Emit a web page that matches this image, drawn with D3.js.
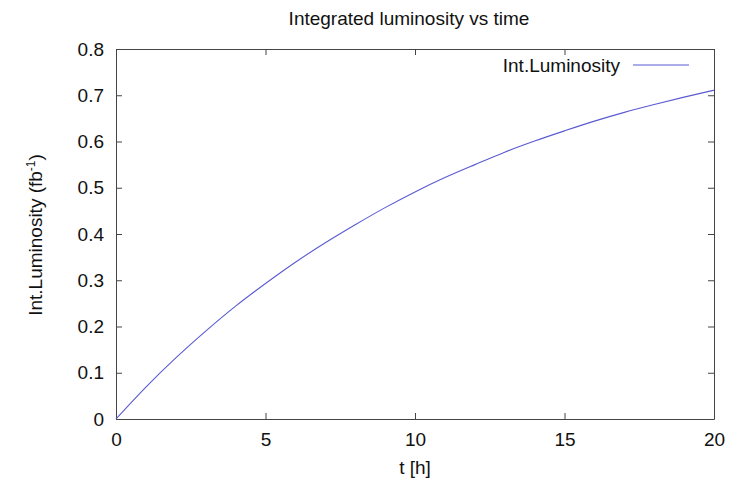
<!DOCTYPE html>
<html>
<head>
<meta charset="utf-8">
<script src="https://cdn.jsdelivr.net/npm/d3@7"></script>
<style>
  body { margin: 0; background: #fff; }
  svg { font-family: "Liberation Sans", Arial, sans-serif; }
</style>
</head>
<body>
<svg id="chart" width="739" height="482"></svg>
<script>
// hours
var tiempo = [0, 1, 2, 3, 4, 5, 6, 7, 8, 9, 10, 11, 12, 13, 14, 15, 16, 17, 18, 19, 20];
// integrated luminosity (fb^-1)
var lumi = [0, 0.069, 0.132, 0.190, 0.244, 0.293, 0.339, 0.381, 0.420, 0.457, 0.491,
            0.522, 0.550, 0.577, 0.601, 0.623, 0.644, 0.663, 0.680, 0.696, 0.711];
var xTicks = [0, 5, 10, 15, 20];
var yTicks = [0, 0.1, 0.2, 0.3, 0.4, 0.5, 0.6, 0.7, 0.8];

var svg = d3.select("#chart");
var mIzq = 116, mDer = 714, mSup = 49, mInf = 419;
var fs = 19;

var x = d3.scaleLinear().domain([0, 20]).range([mIzq, mDer]);
var y = d3.scaleLinear().domain([0, 0.8]).range([mInf, mSup]);

var borde = "#444";

// ejes con ticks hacia dentro, y espejo arriba/derecha
var ax = svg.append("g").attr("transform", "translate(0," + mInf + ")")
  .call(d3.axisBottom(x).tickValues(xTicks).tickSizeInner(-6).tickSizeOuter(0).tickPadding(14).tickFormat(d3.format("d")));
var axTop = svg.append("g").attr("transform", "translate(0," + mSup + ")")
  .call(d3.axisTop(x).tickValues(xTicks).tickSizeInner(-6).tickSizeOuter(0).tickFormat(""));
var ay = svg.append("g").attr("transform", "translate(" + mIzq + ",0)")
  .call(d3.axisLeft(y).tickValues(yTicks).tickSizeInner(-6).tickSizeOuter(0).tickPadding(12)
    .tickFormat(function(d){ return d === 0 ? "0" : d3.format(".1f")(d); }));
var ayR = svg.append("g").attr("transform", "translate(" + mDer + ",0)")
  .call(d3.axisRight(y).tickValues(yTicks).tickSizeInner(-6).tickSizeOuter(0).tickFormat(""));

[ax, axTop, ay, ayR].forEach(function(g){
  g.select(".domain").attr("stroke", borde);
  g.selectAll(".tick line").attr("stroke", borde);
  g.selectAll(".tick text").attr("font-size", fs).attr("fill", "#111")
    .attr("font-family", "Liberation Sans, Arial, sans-serif");
});

// linea
var linea = d3.line()
  .x(function(d, i){ return x(tiempo[i]); })
  .y(function(d){ return y(d); })
  .curve(d3.curveMonotoneX);

svg.append("path")
  .datum(lumi)
  .attr("fill", "none")
  .attr("stroke", "#5a5ad2")
  .attr("stroke-width", 1.1)
  .attr("d", linea);

// titulo y etiquetas
svg.append("text").attr("x", 409).attr("y", 25).attr("text-anchor", "middle")
  .attr("font-size", fs).attr("fill", "#111").text("Integrated luminosity vs time");

svg.append("text").attr("x", 415).attr("y", 474).attr("text-anchor", "middle")
  .attr("font-size", fs).attr("fill", "#111").text("t [h]");

var yl = svg.append("text")
  .attr("transform", "translate(42,235) rotate(-90)")
  .attr("text-anchor", "middle").attr("font-size", fs).attr("fill", "#111");
yl.append("tspan").text("Int.Luminosity (fb");
yl.append("tspan").attr("dy", -7).attr("font-size", 12).text("-1");
yl.append("tspan").attr("dy", 7).text(")");

// leyenda
svg.append("text").attr("x", 620).attr("y", 72).attr("text-anchor", "end")
  .attr("font-size", fs).attr("fill", "#111").text("Int.Luminosity");
svg.append("line").attr("x1", 633).attr("x2", 689).attr("y1", 65).attr("y2", 65)
  .attr("stroke", "#5a5ad2").attr("stroke-width", 1.1);
</script>
</body>
</html>
